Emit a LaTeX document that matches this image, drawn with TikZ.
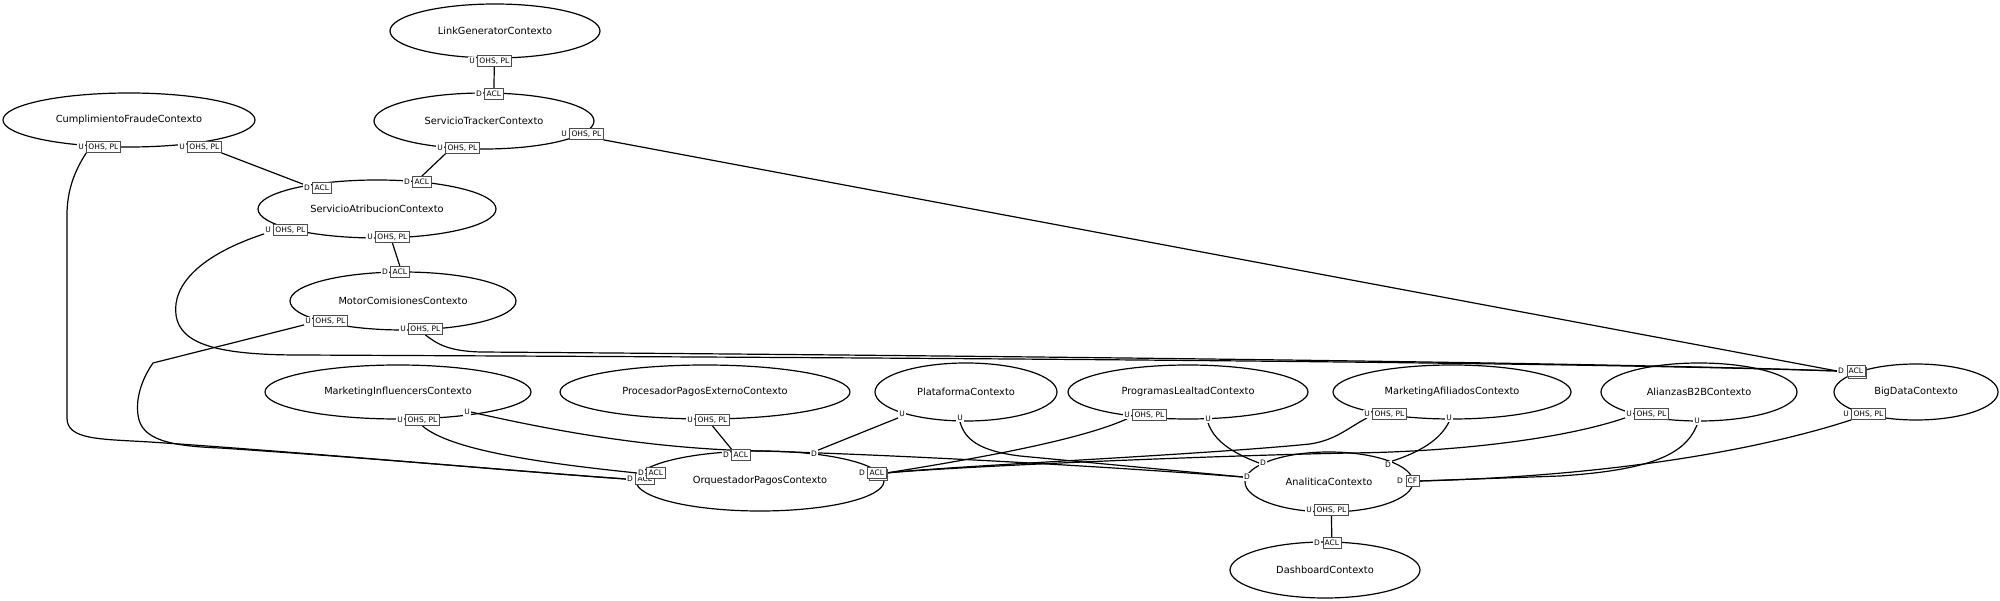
\documentclass[tikz,border=0pt]{standalone}
\usepackage{fontspec}
\setmainfont{DejaVu Sans}
\usetikzlibrary{shapes.geometric,positioning}
\pgfdeclarelayer{edges}
\pgfsetlayers{edges,main}
\newcommand{\ctxfont}{\fontsize{9.8}{11}\selectfont}
\newcommand{\tagfont}{\fontsize{7.5}{9}\selectfont}

\begin{document}
\begin{tikzpicture}[x=1pt, y=-1pt,
  ctx/.style={ellipse, draw, line width=1.2pt, inner sep=0pt, font=\ctxfont},
  ud/.style={fill=white, inner sep=0.9pt, font=\tagfont},
  tag/.style={draw=black!70, fill=white, line width=0.7pt, inner xsep=1.8pt, inner ysep=0pt,
              minimum height=11pt, text height=5.6pt, text depth=0.6pt, font=\tagfont},
  rel/.style={line width=1.2pt}]

\useasboundingbox (0,0) rectangle (2000,601);

% ===== Bounded contexts =====
\node[ctx, minimum width=210pt, minimum height=54pt] (lg) at (495,31) {LinkGeneratorContexto};
\node[ctx, minimum width=252pt, minimum height=54pt] (cf) at (129,120) {CumplimientoFraudeContexto};
\node[ctx, minimum width=220pt, minimum height=56pt] (st) at (484,121) {ServicioTrackerContexto};
\node[ctx, minimum width=238pt, minimum height=58pt] (sa) at (377,209) {ServicioAtribucionContexto};
\node[ctx, minimum width=226pt, minimum height=58pt] (mc) at (403,301) {MotorComisionesContexto};
\node[ctx, minimum width=266pt, minimum height=54pt] (mi) at (398,392) {MarketingInfluencersContexto};
\node[ctx, minimum width=290pt, minimum height=54pt] (pp) at (705,392) {ProcesadorPagosExternoContexto};
\node[ctx, minimum width=182pt, minimum height=58pt] (pl) at (966,392) {PlataformaContexto};
\node[ctx, minimum width=240pt, minimum height=54pt] (le) at (1188,392) {ProgramasLealtadContexto};
\node[ctx, minimum width=238pt, minimum height=54pt] (ma) at (1452,392) {MarketingAfiliadosContexto};
\node[ctx, minimum width=196pt, minimum height=58pt] (ab) at (1699,392) {AlianzasB2BContexto};
\node[ctx, minimum width=164pt, minimum height=56pt] (bd) at (1916,392) {BigDataContexto};
\node[ctx, minimum width=248pt, minimum height=60pt] (op) at (760,481) {OrquestadorPagosContexto};
\node[ctx, minimum width=168pt, minimum height=60pt] (an) at (1329,482) {AnaliticaContexto};
\node[ctx, minimum width=190pt, minimum height=56pt] (db) at (1325,570) {DashboardContexto};

% ===== Upstream / downstream ends =====
\node[ud] (lgU) at (472,61) {U};
\node[tag, right=1.5pt of lgU] (lgUt) {OHS, PL};

\node[ud] (stD) at (479,94) {D};
\node[tag, right=1.5pt of stD] (stDt) {ACL};
\node[ud] (stU1) at (440,148) {U};
\node[tag, right=1.5pt of stU1] (stU1t) {OHS, PL};
\node[ud] (stU2) at (564,134) {U};
\node[tag, right=1.5pt of stU2] (stU2t) {OHS, PL};

\node[ud] (cfU1) at (81,147) {U};
\node[tag, right=1.5pt of cfU1] (cfU1t) {OHS, PL};
\node[ud] (cfU2) at (182,147) {U};
\node[tag, right=1.5pt of cfU2] (cfU2t) {OHS, PL};

\node[ud] (saD1) at (307,188) {D};
\node[tag, right=1.5pt of saD1] (saD1t) {ACL};
\node[ud] (saD2) at (407,182) {D};
\node[tag, right=1.5pt of saD2] (saD2t) {ACL};
\node[ud] (saU1) at (268,230) {U};
\node[tag, right=1.5pt of saU1] (saU1t) {OHS, PL};
\node[ud] (saU2) at (370,237) {U};
\node[tag, right=1.5pt of saU2] (saU2t) {OHS, PL};

\node[ud] (mcD) at (385,272) {D};
\node[tag, right=1.5pt of mcD] (mcDt) {ACL};
\node[ud] (mcU1) at (308,321) {U};
\node[tag, right=1.5pt of mcU1] (mcU1t) {OHS, PL};
\node[ud] (mcU2) at (403,329) {U};
\node[tag, right=1.5pt of mcU2] (mcU2t) {OHS, PL};

\node[ud] (miU1) at (400,420) {U};
\node[tag, right=1.5pt of miU1] (miU1t) {OHS, PL};
\node[ud] (miU2) at (467,412) {U};

\node[ud] (ppU) at (690,420) {U};
\node[tag, right=1.5pt of ppU] (ppUt) {OHS, PL};

\node[ud] (plU1) at (902,414) {U};
\node[ud] (plU2) at (960,418) {U};

\node[ud] (leU1) at (1127,415) {U};
\node[tag, right=1.5pt of leU1] (leU1t) {OHS, PL};
\node[ud] (leU2) at (1208,419) {U};

\node[ud] (maU1) at (1367,414) {U};
\node[tag, right=1.5pt of maU1] (maU1t) {OHS, PL};
\node[ud] (maU2) at (1449,418) {U};

\node[ud] (abU1) at (1629,414) {U};
\node[tag, right=1.5pt of abU1] (abU1t) {OHS, PL};
\node[ud] (abU2) at (1697,421) {U};

\node[ud] (bdD) at (1841,371) {D};
\node[tag, right=3pt of bdD, yshift=-1.5pt] (bdDs) {ACL};
\node[tag, right=1.5pt of bdD] (bdDt) {ACL};
\node[ud] (bdU) at (1846,414) {U};
\node[tag, right=1.5pt of bdU] (bdUt) {OHS, PL};

\node[ud] (opD1) at (726,455) {D};
\node[tag, right=1.5pt of opD1] (opD1t) {ACL};
\node[ud] (opD2) at (814,454) {D};
\node[ud] (opD4) at (630,479) {D};
\node[tag, right=1.5pt of opD4] (opD4t) {ACL};
\node[ud] (opD3) at (641,473) {D};
\node[tag, right=1.5pt of opD3] (opD3t) {ACL};
\node[ud] (opD5) at (862,473) {D};
\node[tag, right=3pt of opD5, yshift=-1.5pt] (opD5s) {ACL};
\node[tag, right=1.5pt of opD5] (opD5t) {ACL};

\node[ud] (anD1) at (1247,477) {D};
\node[ud] (anD2) at (1263,463) {D};
\node[ud] (anD3) at (1388,465) {D};
\node[ud] (anD4) at (1400,481) {D};
\node[tag, right=1.5pt of anD4] (anD4t) {CF};
\node[ud] (anU) at (1309,510) {U};
\node[tag, right=1.5pt of anU] (anUt) {OHS, PL};

\node[ud] (dbD) at (1317,543) {D};
\node[tag, right=1.5pt of dbD] (dbDt) {ACL};

% ===== Relationships =====
\begin{pgfonlayer}{edges}
\draw[rel] (lgUt) -- (stDt);
\draw[rel] (cfU2t.south east) -- (saD1.north west);
\draw[rel] (cfU1t.south west) .. controls (75,170) and (67,190) .. (67,215) -- (67,418)
  .. controls (67,440) and (100,439) .. (150,442) .. controls (300,452) and (500,470) .. (opD4.west);
\draw[rel] (stU1t.south west) -- (saD2t.north);
\draw[rel] (stU2t.south east) -- (bdD.west);
\draw[rel] (saU1.south west) .. controls (200,255) and (172,285) .. (176,315)
  .. controls (180,345) and (220,355) .. (300,355) .. controls (700,357) and (1500,360) .. (bdD.west);
\draw[rel] (saU2t.south) -- (mcDt.north);
\draw[rel] (mcU1.south west) -- (153,363) .. controls (140,382) and (136,400) .. (138,415)
  .. controls (141,440) and (170,446) .. (220,448) .. controls (400,460) and (550,474) .. (opD4.west);
\draw[rel] (mcU2t.south) .. controls (438,345) and (450,351) .. (480,352)
  .. controls (900,355) and (1600,362) .. (bdD.west);
\draw[rel] (miU1t.south) .. controls (450,450) and (540,463) .. (opD3.west);
\draw[rel] (miU2.east) .. controls (550,430) and (650,449) .. (760,451)
  .. controls (900,455) and (1100,466) .. (anD1.west);
\draw[rel] (ppUt.south) -- (opD1t.north west);
\draw[rel] (plU1.south west) -- (opD2.north east);
\draw[rel] (plU2.south) .. controls (965,440) and (980,451) .. (1020,456) -- (anD1.west);
\draw[rel] (leU1.south) .. controls (1080,440) and (980,458) .. (opD5t.east);
\draw[rel] (leU2.south) .. controls (1214,440) and (1230,452) .. (anD2.west);
\draw[rel] (maU1.south) .. controls (1345,430) and (1335,440) .. (1310,444)
  .. controls (1200,455) and (950,466) .. (opD5t.east);
\draw[rel] (maU2.south) .. controls (1440,440) and (1420,452) .. (anD3.north east);
\draw[rel] (abU1.south west) .. controls (1560,440) and (1450,452) .. (1350,453)
  .. controls (1200,456) and (950,467) .. (opD5t.east);
\draw[rel] (abU2.south) .. controls (1685,455) and (1650,470) .. (1560,476) -- (anD4t.east);
\draw[rel] (bdUt.south west) .. controls (1790,440) and (1650,475) .. (anD4t.east);
\draw[rel] (anUt) -- (dbDt);
\end{pgfonlayer}

\end{tikzpicture}
\end{document}
